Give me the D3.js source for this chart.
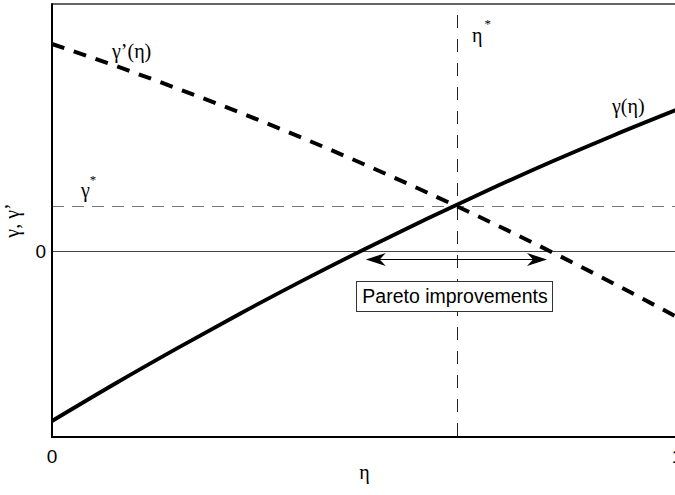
<!DOCTYPE html>
<html>
<head>
<meta charset="utf-8">
<script src="https://cdn.jsdelivr.net/npm/d3@7"></script>
<style>
  html, body { margin: 0; padding: 0; background: #fff; }
  svg { display: block; }
</style>
</head>
<body>
<script>
// ---- data ----
const etaValues   = [0, 0.1, 0.2, 0.3, 0.4, 0.5, 0.6, 0.7, 0.8, 0.9, 1.0];
const gammaValues = [-1.70, -1.33, -0.974, -0.630, -0.299, 0.018, 0.323, 0.615, 0.895, 1.161, 1.414];
const gammaPrimeValues = [2.07, 1.855, 1.626, 1.386, 1.132, 0.865, 0.585, 0.293, -0.012, -0.330, -0.661];
const etaStar = 0.648;
const gammaStar = 0.45;
const paretoRange = [0.502, 0.792];
const xTickValues = [0, 1];
const xTickLabels = ["0", "1"];
const yTickValues = [0];
const yTickLabels = ["0"];

// ---- layout ----
const W = 675, H = 495;
const mLeft = 52, mRight = 677, mTop = 4, mBottom = 437;

const svg = d3.select("body").append("svg").attr("width", W).attr("height", H);

const x = d3.scaleLinear().domain([0, 1]).range([mLeft, mRight]);
const y = d3.scaleLinear().domain([-1.86, 2.47]).range([mBottom, mTop]);

const sans = "'Liberation Sans', Arial, Helvetica, sans-serif";
const serif = "'Liberation Serif', 'Times New Roman', serif";

// zero line
svg.append("line")
  .attr("x1", x(0)).attr("x2", x(1))
  .attr("y1", Math.round(y(0)) + 0.5).attr("y2", Math.round(y(0)) + 0.5)
  .attr("stroke", "#444").attr("stroke-width", 1);

// gamma* dashed horizontal
svg.append("line")
  .attr("x1", x(0)).attr("x2", x(1))
  .attr("y1", Math.round(y(gammaStar)) + 0.5).attr("y2", Math.round(y(gammaStar)) + 0.5)
  .attr("stroke", "#777").attr("stroke-width", 1.2)
  .attr("stroke-dasharray", "12,8");

// eta* dashed vertical
svg.append("line")
  .attr("x1", Math.round(x(etaStar)) + 0.5).attr("x2", Math.round(x(etaStar)) + 0.5)
  .attr("y1", mTop).attr("y2", mBottom)
  .attr("stroke", "#222").attr("stroke-width", 1)
  .attr("stroke-dasharray", "13,11")
  .attr("stroke-dashoffset", -11);

// curves
const line = d3.line()
  .x((d, i) => x(etaValues[i]))
  .y(d => y(d))
  .curve(d3.curveMonotoneX);

svg.append("path")
  .attr("d", line(gammaPrimeValues))
  .attr("fill", "none").attr("stroke", "#000")
  .attr("stroke-width", 4)
  .attr("stroke-dasharray", "13,10");

svg.append("path")
  .attr("d", line(gammaValues))
  .attr("fill", "none").attr("stroke", "#000")
  .attr("stroke-width", 3.8);

// frame
svg.append("line").attr("x1", mLeft).attr("x2", W).attr("y1", mTop).attr("y2", mTop)
  .attr("stroke", "#333").attr("stroke-width", 1.6);
svg.append("line").attr("x1", mLeft).attr("x2", mLeft).attr("y1", mTop - 0.8).attr("y2", mBottom + 1)
  .attr("stroke", "#000").attr("stroke-width", 2);
svg.append("line").attr("x1", mLeft - 1).attr("x2", W).attr("y1", mBottom).attr("y2", mBottom)
  .attr("stroke", "#000").attr("stroke-width", 2);

// tick labels
svg.selectAll(".xt").data(xTickValues).enter().append("text")
  .attr("x", d => x(d)).attr("y", 463)
  .attr("text-anchor", "middle")
  .attr("font-family", sans).attr("font-size", 19)
  .text((d, i) => xTickLabels[i]);

svg.selectAll(".yt").data(yTickValues).enter().append("text")
  .attr("x", 46).attr("y", d => y(d) + 7)
  .attr("text-anchor", "end")
  .attr("font-family", sans).attr("font-size", 19)
  .text((d, i) => yTickLabels[i]);

// axis titles
svg.append("text")
  .attr("x", (mLeft + mRight) / 2).attr("y", 479)
  .attr("text-anchor", "middle")
  .attr("font-family", serif).attr("font-size", 20)
  .text("η");

svg.append("text")
  .attr("transform", `translate(19,${(mTop + mBottom) / 2}) rotate(-90)`)
  .attr("text-anchor", "middle")
  .attr("font-family", serif).attr("font-size", 20)
  .text("γ, γ’");

// curve labels
svg.append("text")
  .attr("x", 112).attr("y", 58)
  .attr("font-family", serif).attr("font-size", 20)
  .text("γ’(η)");

svg.append("text")
  .attr("x", 612).attr("y", 113)
  .attr("font-family", serif).attr("font-size", 20)
  .text("γ(η)");

// eta* label
const es = svg.append("text")
  .attr("x", 472).attr("y", 42)
  .attr("font-family", serif).attr("font-size", 20);
es.append("tspan").text("η");
es.append("tspan").attr("font-size", 13).attr("dy", -14).attr("dx", 2).text("*");

// gamma* label
const gs = svg.append("text")
  .attr("x", 81).attr("y", 197)
  .attr("font-family", serif).attr("font-size", 20);
gs.append("tspan").text("γ");
gs.append("tspan").attr("font-size", 13).attr("dy", -13).attr("dx", 0).text("*");

// Pareto arrow
const ay = 259.5;
const xl = x(paretoRange[0]), xr = x(paretoRange[1]);
svg.append("line")
  .attr("x1", xl + 10).attr("x2", xr - 10)
  .attr("y1", ay).attr("y2", ay)
  .attr("stroke", "#000").attr("stroke-width", 1.2);

function head(tipX, dir) {
  const L = 20, hw = 6.5, notch = 6;
  return `M${tipX},${ay} L${tipX + dir * L},${ay - hw} L${tipX + dir * (L - notch)},${ay} L${tipX + dir * L},${ay + hw} Z`;
}
svg.append("path").attr("d", head(xl, 1)).attr("fill", "#000");
svg.append("path").attr("d", head(xr, -1)).attr("fill", "#000");

// Pareto box
svg.append("rect")
  .attr("x", 356.5).attr("y", 281.5)
  .attr("width", 196).attr("height", 30)
  .attr("fill", "#fff").attr("stroke", "#333").attr("stroke-width", 1);
svg.append("text")
  .attr("x", 455).attr("y", 303)
  .attr("text-anchor", "middle")
  .attr("font-family", sans).attr("font-size", 19.5)
  .text("Pareto improvements");
</script>
</body>
</html>
